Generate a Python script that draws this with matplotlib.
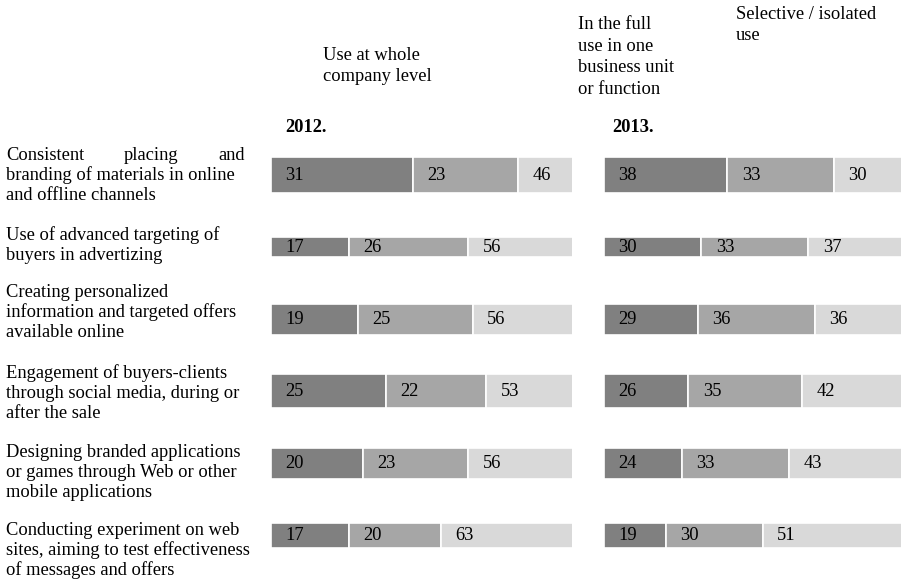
import matplotlib
matplotlib.use("Agg")
import matplotlib.pyplot as plt
from matplotlib.transforms import blended_transform_factory

plt.rcParams["font.family"] = ["Liberation Serif", "DejaVu Serif"]
plt.rcParams["font.size"] = 13.3

categories = [
    "Consistent placing and\nbranding of materials in online\nand offline channels",
    "Use of advanced targeting of\nbuyers in advertizing",
    "Creating personalized\ninformation and targeted offers\navailable online",
    "Engagement of buyers-clients\nthrough social media, during or\nafter the sale",
    "Designing branded applications\nor games through Web or other\nmobile applications",
    "Conducting experiment on web\nsites, aiming to test effectiveness\nof messages and offers",
]
series_names = ["Use at whole\ncompany level",
                "In the full\nuse in one\nbusiness unit\nor function",
                "Selective / isolated\nuse"]
years = ["2012.", "2013."]

whole_2012 = [31, 17, 19, 25, 20, 17]
unit_2012 = [23, 26, 25, 22, 23, 20]
sel_2012 = [46, 56, 56, 53, 56, 63]

whole_2013 = [38, 30, 29, 26, 24, 19]
unit_2013 = [33, 33, 36, 35, 33, 30]
sel_2013 = [30, 37, 36, 42, 43, 51]

colors = ["#808080", "#a6a6a6", "#d9d9d9"]
bar_heights = [0.50, 0.28, 0.43, 0.47, 0.43, 0.35]
label_shift_pt = [0, -1.5, -5, 1.5, 6.5, 10.5]   # fine vertical nudges of the row labels

W, H = 901, 580
fig = plt.figure(figsize=(W / 100, H / 100), dpi=100)

def px(x, y):
    return x / W, 1 - y / H

ax_bottom = (H - 571.5) / H
ax_height = (571.5 - 139) / H
ax1 = fig.add_axes([271 / W, ax_bottom, 301 / W, ax_height])
ax2 = fig.add_axes([604 / W, ax_bottom, 297 / W, ax_height])

panels = [(ax1, [whole_2012, unit_2012, sel_2012], 65.7),
          (ax2, [whole_2013, unit_2013, sel_2013], 91.7)]

for ax, stacks, xmax in panels:
    left = [0] * len(categories)
    for vals, col in zip(stacks, colors):
        ax.barh(range(len(categories)), vals, left=left, height=bar_heights,
                color=col, edgecolor="white", linewidth=1.2)
        for i, (l, v) in enumerate(zip(left, vals)):
            ax.annotate(str(v), xy=(l, i), xytext=(10.5, 0), textcoords="offset points",
                        ha="left", va="center", annotation_clip=False)
        left = [l + v for l, v in zip(left, vals)]
    ax.set_xlim(0, xmax)
    ax.set_ylim(len(categories) - 0.5, -0.5)
    ax.axis("off")

# category labels on the left
fig.canvas.draw()
renderer = fig.canvas.get_renderer()
tr = blended_transform_factory(fig.transFigure, ax1.transData)
x0, x1 = 6 / W, 245 / W
for i, label in enumerate(categories):
    lines = label.split("\n")
    n = len(lines)
    for k, line in enumerate(lines):
        dy = ((n - 1) / 2 - k) * 14.4 - label_shift_pt[i]
        if i == 0 and k == 0:
            # justified first line
            words = line.split()
            widths = []
            for w in words:
                t = fig.text(0, 0, w)
                widths.append(t.get_window_extent(renderer).width / W)
                t.remove()
            gap = (x1 - x0 - sum(widths)) / (len(words) - 1)
            xx = x0
            for w, wd in zip(words, widths):
                ax1.annotate(w, xy=(xx, i), xycoords=tr, xytext=(0, dy),
                             textcoords="offset points", ha="left", va="center")
                xx += wd + gap
        else:
            ax1.annotate(line, xy=(x0, i), xycoords=tr, xytext=(0, dy),
                         textcoords="offset points", ha="left", va="center")

# series headers
fig.text(*px(323, 66), series_names[0], ha="left", va="center", linespacing=1.38)
fig.text(*px(578, 57), series_names[1], ha="left", va="center", linespacing=1.38)
fig.text(*px(736, 25), series_names[2], ha="left", va="center", linespacing=1.38)

# year headers
fig.text(*px(285, 127), years[0], ha="left", va="center", fontweight="bold")
fig.text(*px(612, 127), years[1], ha="left", va="center", fontweight="bold")

fig.savefig("out.png", dpi=100, facecolor="white")
